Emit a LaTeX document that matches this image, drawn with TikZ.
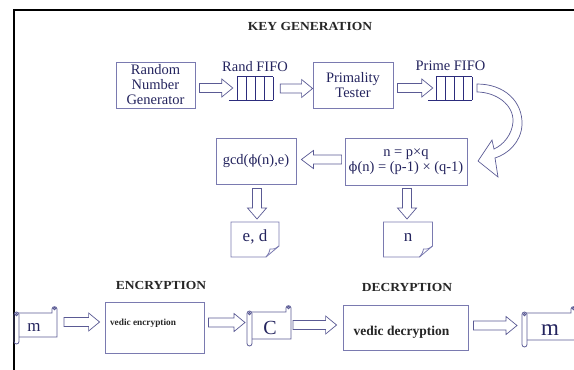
\documentclass[tikz,border=0pt]{standalone}
\usepackage{fontspec}
\setmainfont{Liberation Serif}
\newfontfamily\headfont[FakeStretch=1.1]{Liberation Serif}
\newfontfamily\phifont{DejaVu Serif}
\usetikzlibrary{calc}

\definecolor{boxline}{HTML}{7A7AB0}
\definecolor{ink}{HTML}{24245E}
\definecolor{arrline}{HTML}{5A5A94}
\definecolor{fifoline}{HTML}{2C2C7C}

\newcommand\phisym{{\phifont\fontsize{13}{15}\selectfont ϕ}}

% hollow block arrows; the shaft keeps the height of the first point
\newcommand\arrowright[2]{%
  \draw[blockarr] let \p1=(#1), \p2=(#2) in
    (\x1,\y1+4.5pt) -- (\x2-11pt,\y1+4.5pt) -- (\x2-11pt,\y1+9pt) -- (\x2,\y1)
    -- (\x2-11pt,\y1-9pt) -- (\x2-11pt,\y1-4.5pt) -- (\x1,\y1-4.5pt) -- cycle;}
\newcommand\arrowleft[2]{%
  \draw[blockarr] let \p1=(#1), \p2=(#2) in
    (\x1,\y1+4.5pt) -- (\x2+12pt,\y1+4.5pt) -- (\x2+12pt,\y1+9pt) -- (\x2,\y1)
    -- (\x2+12pt,\y1-9pt) -- (\x2+12pt,\y1-4.5pt) -- (\x1,\y1-4.5pt) -- cycle;}
\newcommand\arrowdown[2]{%
  \draw[blockarr] let \p1=(#1), \p2=(#2) in
    (\x1-4.5pt,\y1) -- (\x1-4.5pt,\y2+11pt) -- (\x1-9.5pt,\y2+11pt) -- (\x1,\y2)
    -- (\x1+9.5pt,\y2+11pt) -- (\x1+4.5pt,\y2+11pt) -- (\x1+4.5pt,\y1) -- cycle;}

% FIFO queue: open on the left, five slots
\newcommand\fifolines[1]{%
  \draw[fifo] (#1.south west) -- (#1.south east);
  \draw[fifo] ($(#1.north west)+(8,0)$) -- (#1.north east);
  \foreach \k in {0,...,4}
    \draw[fifo] ($(#1.north east)+(-9*\k,0)$) -- ($(#1.south east)+(-9*\k,0)$);}

% scroll around a node: left, right, top, bottom offsets from its centre
\newcommand\scrollshape[5]{%
  \begin{scope}[shift={(#1.center)}]
    \draw[scrollline] (#2+5,#4) -- (#3-5,#4) -- (#3-5,#4-4)
      .. controls (#3-5,#4-7) and (#3,#4-7) .. (#3,#4-4) -- (#3,#5) -- (#2+5,#5);
    \draw[scrollline] (#3-2.5,#4-4.5) circle[radius=1.3];
    \draw[scrollline, rounded corners=2.5pt] (#2,#4-1) rectangle (#2+5,#5+7);
    \draw[scrollline] (#2+2.5,#4+1.5) circle[radius=1.3];
  \end{scope}}

% sheet with a folded lower right corner: half width, extent above, extent below
\newcommand\docshape[4]{%
  \begin{scope}[shift={(#1.center)}]
    \draw[docline] (-#2,-#3) -- (#2,-#3) -- (#2,#4-11) -- (#2-13,#4) -- (-#2,#4) -- cycle;
    \draw[docline] (#2,#4-11) .. controls (#2-4,#4-8) .. (#2-9,#4-8)
      .. controls (#2-10,#4-4) .. (#2-13,#4);
  \end{scope}}

\begin{document}
\begin{tikzpicture}[x=1pt,y=-1pt,
  box/.style={draw=boxline, line width=0.8pt, text=ink, align=center, inner sep=0pt,
    font=\fontsize{14.5}{15}\selectfont},
  lbl/.style={text=ink, inner sep=0pt, font=\fontsize{14.5}{15}\selectfont},
  ttl/.style={inner sep=0pt, text=black!85, font=\headfont\bfseries\fontsize{12.3}{14}\selectfont},
  fifonode/.style={minimum width=44pt, minimum height=23pt, inner sep=0pt},
  fifo/.style={draw=fifoline, line width=1.3pt},
  blockarr/.style={draw=arrline, line width=0.7pt, fill=white},
  docline/.style={draw=boxline, line width=0.8pt},
  scrollline/.style={draw=arrline, line width=0.8pt},
  doctext/.style={text=ink, inner sep=0pt, font=\fontsize{17}{17}\selectfont},
  scrolltext/.style={text=ink, inner sep=0pt},
  frame/.style={line width=2.6pt, draw=black}]
\useasboundingbox (0,0) rectangle (574,370);
\draw[frame] (14,370) -- (14,10) -- (574,10);

% key generation
\node[ttl] (keygen) at (310,26) {KEY GENERATION};
\node[box, minimum width=79pt, minimum height=46pt] (rng) at (155.5,85) {Random\\Number\\Generator};
\node[lbl] (rfifolbl) at (255,67) {Rand FIFO};
\node[fifonode] (rfifo) at (251,88.5) {};
\fifolines{rfifo}
\node[box, minimum width=80pt, minimum height=46pt] (prim) at (353,85) {Primality\\Tester};
\node[lbl] (pfifolbl) at (450.5,66) {Prime FIFO};
\node[fifonode] (pfifo) at (450,88.5) {};
\fifolines{pfifo}
\node[box, minimum width=122pt, minimum height=47pt] (npq) at (406,161.5)
  {n = p×q\\\phisym(n) = (p-1) × (q-1)};
\node[box, minimum width=80pt, minimum height=46pt] (gcd) at (256,161) {gcd(\phisym(n),e)};
\node[doctext] (ed) at (255,237) {e, d};
\docshape{ed}{24}{15}{20}
\node[doctext] (nout) at (408,237) {n};
\docshape{nout}{24.5}{15}{20}

\arrowright{$(rng.east)+(4,3)$}{$(rfifo.west)+(4,0)$}
\arrowright{$(rfifo.east)+(7,0)$}{$(prim.west)$}
\arrowright{$(prim.east)+(4,3)$}{$(pfifo.west)+(5,0)$}
\arrowleft{$(npq.west)+(-3,-2)$}{$(gcd.east)+(5,0)$}
\arrowdown{$(gcd.south)+(1,4)$}{$(ed.center)+(2,-18)$}
\arrowdown{$(npq.south)+(1,3)$}{$(nout.center)+(0,-18)$}

% curved hand-over from the prime queue to n = p x q
\draw[blockarr] (477,84) .. controls (505,84) and (523,102) .. (522,125)
  .. controls (521,142) and (508,154) .. (495,158) -- (498,177) -- (478,161)
  -- (492,140) -- (494,149) .. controls (503,145) and (512,135) .. (513,122)
  .. controls (514,104) and (495,92) .. (477,92) -- cycle;

% encryption and decryption
\node[ttl] (enc) at (161,285) {ENCRYPTION};
\node[ttl] (dec) at (407,287) {DECRYPTION};
\node[scrolltext, font=\fontsize{17}{17}\selectfont] (m1) at (34,327) {m};
\scrollshape{m1}{-20}{23}{-14}{10}
\node[box, minimum width=99pt, minimum height=51pt] (venc) at (154.5,327.5) {};
\node[inner sep=0pt, text=black!85, font=\bfseries\fontsize{9.3}{11}\selectfont] (venctxt) at (143,323) {vedic encryption};
\node[scrolltext, font=\fontsize{20}{20}\selectfont] (ctext) at (270,328) {C};
\scrollshape{ctext}{-23}{21}{-16}{11}
\node[box, minimum width=125pt, minimum height=45pt] (vdec) at (405.5,327.5) {};
\node[inner sep=0pt, text=black!85, font=\bfseries\fontsize{13.5}{15}\selectfont] (vdectxt) at (401.5,332) {vedic decryption};
\node[scrolltext, font=\fontsize{23}{23}\selectfont] (m2) at (550,330) {m};
\scrollshape{m2}{-28}{26}{-17}{10}

\arrowright{$(m1.center)+(30,-5)$}{$(venc.west)+(-5,0)$}
\arrowright{$(venc.east)+(4,-5)$}{$(ctext.center)+(-25,0)$}
\arrowright{$(ctext.center)+(23,-3)$}{$(vdec.west)+(-6,0)$}
\arrowright{$(vdec.east)+(5,-2)$}{$(m2.center)+(-33,0)$}
\end{tikzpicture}
\end{document}
